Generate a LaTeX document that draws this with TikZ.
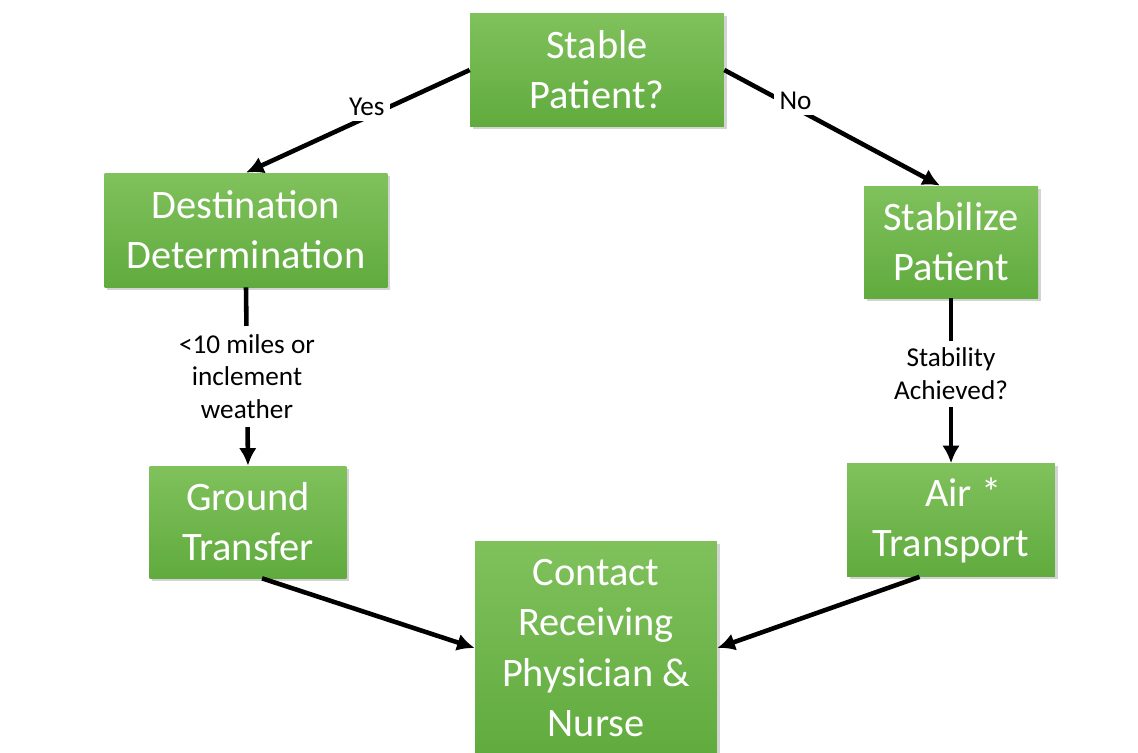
\documentclass[tikz,border=0pt]{standalone}
\usepackage{fontspec}
\setmainfont{Carlito}
\usetikzlibrary{arrows.meta,shadows}
\definecolor{boxtop}{RGB}{128,193,92}
\definecolor{boxbot}{RGB}{96,171,62}
\begin{document}
\begin{tikzpicture}[x=0.02cm,y=-0.02cm,
        greenbox/.style={rectangle,top color=boxtop,bottom color=boxbot,
            draw=none,text=white,align=center,inner sep=0pt,
            font=\fontsize{23}{28.5}\selectfont,
            drop shadow={opacity=0.35,shadow xshift=1.5pt,shadow yshift=-1.5pt}},
        flow/.style={line width=2.6pt,-{Latex[length=10pt,width=10pt]}},
        lbl/.style={fill=white,align=center,inner sep=3pt,
            font=\fontsize{15.5}{18.5}\selectfont}]
                \useasboundingbox (0,0) rectangle (1138,752);
                %% boxes
                \node[greenbox,minimum width=5.08cm,minimum height=2.26cm] (stable) at (597,70) {Stable\\Patient?};
                \node[greenbox,minimum width=5.66cm,minimum height=2.28cm] (dest) at (246,230) {Destination\\Determination};
                \node[greenbox,minimum width=3.48cm,minimum height=2.24cm] (stab) at (951,242) {Stabilize\\Patient};
                \node[greenbox,minimum width=3.94cm,minimum height=2.24cm] (ground) at (248,522) {Ground\\Transfer};
                \node[greenbox,minimum width=4.16cm,minimum height=2.26cm] (air) at (951,520) {\hspace{0.6em}Air *\\Transport};
                \node[greenbox,minimum width=4.84cm,minimum height=4.28cm] (contact) at (596,648) {Contact\\Receiving\\Physician \&\\Nurse};
                %% yes / no
                \draw[flow] (stable.west) -- node[lbl,pos=0.46,yshift=6pt] {Yes} (dest.north);
                \draw[flow] (stable.east) -- node[lbl,pos=0.33,yshift=4pt] {No} (stab.101);
                %% down
                \draw[flow] (dest.south) -- node[lbl,inner ysep=5pt] {<10 miles or\\inclement\\weather} (ground.north);
                \draw[flow] (stab.south) -- node[lbl,inner ysep=4pt,yshift=4pt] {Stability\\Achieved?} (air.north);
                %% to contact
                \draw[flow] (ground.284) -- (contact.west);
                \draw[flow] (air.241) -- (contact.east);
\end{tikzpicture}
\end{document}
